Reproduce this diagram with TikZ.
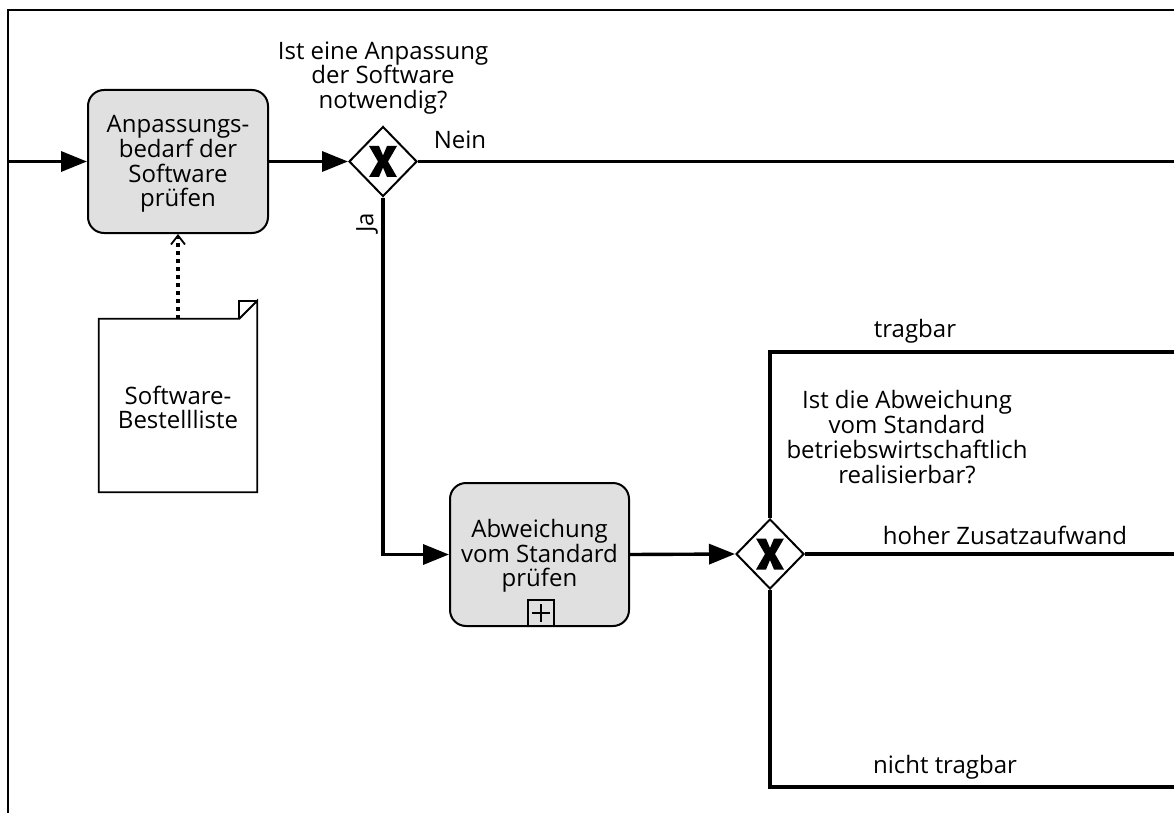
\documentclass[tikz,border=0pt]{standalone}
\usepackage{fontspec}
\setmainfont{Open Sans}
\usetikzlibrary{arrows.meta,shapes.geometric}
\definecolor{taskgray}{HTML}{E0E0E0}
\begin{document}
\begin{tikzpicture}[x=1pt,y=-1pt,
  txt/.style={font=\fontsize{24}{24.7}\selectfont, align=center, inner sep=0pt},
  task/.style={draw=black, line width=2pt, fill=taskgray, rounded corners=16pt, minimum width=180pt, minimum height=143pt, inner sep=0pt},
  gw/.style={draw=black, diamond, line width=2pt, minimum width=68pt, minimum height=70pt, inner sep=0pt, fill=white},
  seqline/.style={line width=3.4pt},
  flow/.style={seqline, -{Triangle[length=26pt,width=20pt]}},
  assoc/.style={line width=3.4pt, dash pattern=on 4pt off 4pt, -{Straight Barb[length=9pt,width=14pt,line width=1.8pt]}}
]
\useasboundingbox (0,0) rectangle (1174,813);
% pool frame
\draw[line width=2.2pt] (1174,10) -- (8,10) -- (8,813);

% nodes
\node[task] (t1) at (178,161.5) {};
\node[txt] (t1text) at (178,164) {Anpassungs-\\bedarf der\\Software\\prüfen};
\node[gw] (g1) at (383,161.5) {};
\fill ([shift={(-14,-15.5)}]g1.center) -- ++(10,0) -- ++(4,9.5) -- ++(4,-9.5) -- ++(10,0) -- ++(-9,15.5) -- ++(9,15.5) -- ++(-10,0) -- ++(-4,-9.5) -- ++(-4,9.5) -- ++(-10,0) -- ++(9,-15.5) -- cycle;
\node[task, minimum width=179pt] (t2) at (539.5,554.5) {};
\node[txt] (t2text) at (539.5,556) {Abweichung\\vom Standard\\prüfen};
\node[draw=black, line width=1.5pt, minimum size=26pt, inner sep=0pt] (plus) at (541,613) {};
\draw[line width=1.5pt] ([xshift=-9pt]plus.center) -- ([xshift=9pt]plus.center)
  ([yshift=-9pt]plus.center) -- ([yshift=9pt]plus.center);
\node[gw] (g2) at (770,554) {};
\fill ([shift={(-14,-15.5)}]g2.center) -- ++(10,0) -- ++(4,9.5) -- ++(4,-9.5) -- ++(10,0) -- ++(-9,15.5) -- ++(9,15.5) -- ++(-10,0) -- ++(-4,-9.5) -- ++(-4,9.5) -- ++(-10,0) -- ++(9,-15.5) -- cycle;

% document
\node[minimum width=158pt, minimum height=173pt, inner sep=0pt] (doc) at (178,405.5) {};
\draw[line width=1.8pt, fill=white] (doc.north west) -- ([xshift=-18pt]doc.north east) -- ([yshift=18pt]doc.north east) -- (doc.south east) -- (doc.south west) -- cycle;
\draw[line width=1.8pt] ([xshift=-18pt]doc.north east) |- ([yshift=18pt]doc.north east);
\node[txt] (doctext) at (178,407.5) {Software-\\Bestellliste};

% end coordinates
\coordinate (in) at (8,161.5);
\coordinate (neinEnd) at (1174,161.5);
\coordinate (tragEnd) at (1174,352);
\coordinate (hohEnd) at (1174,554);
\coordinate (nichtEnd) at (1174,787);

% connectors
\draw[flow] (in) -- (t1.west);
\draw[flow] (t1.east) -- (g1.west);
\draw[seqline] (g1.east) -- (neinEnd);
\draw[flow] (g1.south) |- (t2.west);
\draw[flow] (t2.east) -- (g2.west);
\draw[seqline] (g2.north) |- (tragEnd);
\draw[seqline] (g2.east) -- (hohEnd);
\draw[seqline] (g2.south) |- (nichtEnd);
\draw[assoc] (doc.north) -- (t1.south);

% labels
\node[txt] (q1) at (383,78) {Ist eine Anpassung\\der Software\\notwendig?};
\node[txt] (nein) at (460,140) {Nein};
\node[txt, rotate=90] (ja) at (367,223) {Ja};
\node[txt] (trag) at (915,331) {tragbar};
\node[txt] (q2) at (907,437) {Ist die Abweichung\\vom Standard\\betriebswirtschaftlich\\realisierbar?};
\node[txt] (hoh) at (1005,535) {hoher Zusatzaufwand};
\node[txt] (nicht) at (945,767) {nicht tragbar};
\end{tikzpicture}
\end{document}
